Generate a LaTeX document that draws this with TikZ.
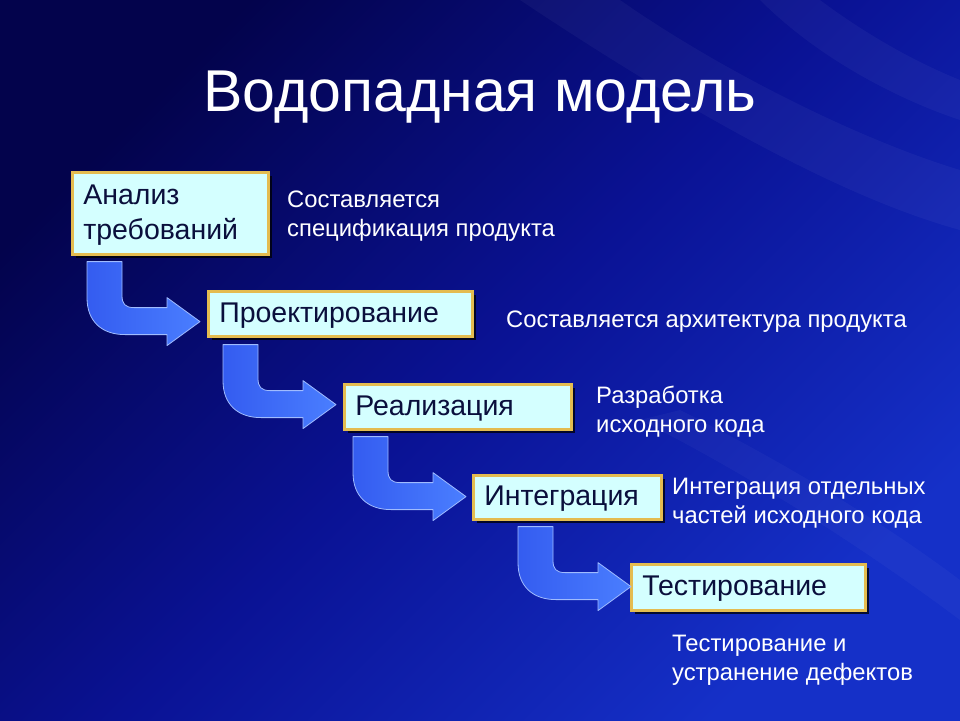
\documentclass[tikz,border=0pt]{standalone}
\usepackage{fontspec}
\setmainfont{Liberation Sans}
\usetikzlibrary{shadows,calc}
\definecolor{bgdark}{HTML}{03034C}
\definecolor{bgmid}{HTML}{0A1294}
\definecolor{bglight}{HTML}{1530C8}
\definecolor{boxfill}{HTML}{D4FFFF}
\definecolor{boxedge}{HTML}{E4BC50}
\definecolor{boxtext}{HTML}{0A0F3C}
\definecolor{arrowA}{HTML}{345CF0}
\definecolor{arrowB}{HTML}{4A7EFF}
\definecolor{arrowedge}{HTML}{A0BCFF}
\begin{document}
\begin{tikzpicture}[x=1pt,y=-1pt,
  stage/.style={draw=boxedge, line width=2.6pt, fill=boxfill, text=boxtext,
    font=\fontsize{28.5}{35}\selectfont, align=left, inner xsep=11pt, inner ysep=0pt,
    anchor=north west, text depth=3pt,
    drop shadow={shadow xshift=4pt, shadow yshift=-4pt, fill=black, opacity=0.75}},
  note/.style={text=white, font=\fontsize{23.8}{29}\selectfont, align=left,
    anchor=north west, inner sep=0pt},
  pics/bentarrow/.style={code={
    \shade[left color=arrowA, right color=arrowB, draw=arrowedge, line width=0.8pt, line join=round]
      (0,0) -- (35,0) -- (35,34) .. controls (35,42) and (38,46) .. (47,46)
      -- (80,46) -- (80,36) -- (113,60) -- (80,84) -- (80,73) -- (38,73)
      .. controls (15,73) and (0,60) .. (0,36) -- cycle;
  }}
]
\useasboundingbox (0,0) rectangle (960,720);
% background
\fill[bgmid] (0,0) rectangle (960,720);
\shade[top color=bgdark, bottom color=bglight, middle color=bgmid, shading angle=45] (0,0) rectangle (960,720);
\fill[white, opacity=0.04] (520,0) .. controls (700,120) and (850,200) .. (960,230) -- (960,170) .. controls (860,140) and (720,70) .. (620,0) -- cycle;
\fill[white, opacity=0.04] (760,0) .. controls (820,60) and (900,100) .. (960,120) -- (960,80) .. controls (910,60) and (860,30) .. (820,0) -- cycle;
\fill[white, opacity=0.03] (640,420) .. controls (760,480) and (880,560) .. (960,620) -- (960,580) .. controls (880,520) and (780,460) .. (680,410) -- cycle;

% title
\node[text=white, font=\fontsize{59}{62}\selectfont, inner sep=0pt] (title) at (480,97) {Водопадная модель};

% stages
\node[stage, minimum width=196pt, minimum height=82pt, text width=174pt, text depth=37pt] (b1) at (71,171) {Анализ\\требований};
\node[stage, minimum width=264pt, minimum height=45pt, text width=242pt] (b2) at (207,290) {Проектирование};
\node[stage, minimum width=227pt, minimum height=45pt, text width=205pt] (b3) at (343,383) {Реализация};
\node[stage, minimum width=188pt, minimum height=44pt, text width=166pt] (b4) at (472,474) {Интеграция};
\node[stage, minimum width=234pt, minimum height=46pt, text width=212pt] (b5) at (630,563) {Тестирование};

% arrows
\pic at ($(b1.south west)+(16,6)$) {bentarrow};
\pic at ($(b2.south west)+(16,7)$) {bentarrow};
\pic at ($(b3.south west)+(10,6)$) {bentarrow};
\pic at ($(b4.south west)+(46,6)$) {bentarrow};

% notes
\node[note] (n1) at (287,191) {Составляется\\спецификация продукта};
\node[note] (n2) at (506,311) {Составляется архитектура продукта};
\node[note] (n3) at (596,386) {Разработка\\исходного кода};
\node[note] (n4) at (672,478) {Интеграция отдельных\\частей исходного кода};
\node[note] (n5) at (672,635) {Тестирование и\\устранение дефектов};
\end{tikzpicture}
\end{document}
